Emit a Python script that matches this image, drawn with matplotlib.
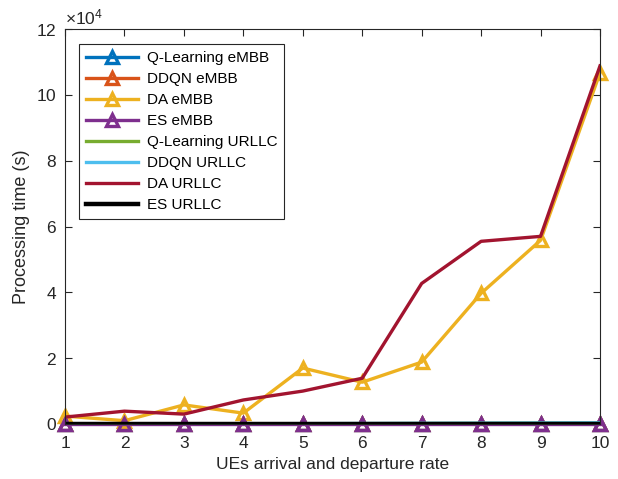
import numpy as np
import matplotlib
matplotlib.use("Agg")
from matplotlib import pyplot as plt

plt.rcParams['font.family'] = ['Liberation Sans', 'DejaVu Sans']
plt.rcParams['mathtext.fontset'] = 'custom'
plt.rcParams['mathtext.rm'] = 'Liberation Sans'

# taxa de chegada/saida dos UEs
rate = [1, 2, 3, 4, 5, 6, 7, 8, 9, 10]

# tempos de processamento (s)
ql_embb = [5, 8, 10, 12, 15, 18, 20, 25, 28, 30]
ddqn_embb = [8, 10, 14, 18, 22, 25, 30, 35, 40, 45]
da_embb = [2400, 1000, 5800, 3300, 17000, 12700, 18800, 39700, 55800, 106700]
es_embb = [1, 1, 1, 1, 1, 1, 1, 1, 1, 1]
ql_urllc = [20, 30, 40, 60, 80, 110, 150, 200, 250, 300]
ddqn_urllc = [30, 40, 60, 80, 110, 150, 200, 250, 300, 350]
da_urllc = [2100, 3900, 3000, 7300, 10000, 13900, 42700, 55500, 57000, 108800]
es_urllc = [0, 0, 0, 0, 0, 0, 0, 0, 0, 0]

fig = plt.figure(figsize=(6.18, 4.79), dpi=100)
ax = fig.add_axes([65/618, 1-424/479, 535/618, 395/479])

lw = 2.4
mk = dict(ms=8.5, mfc='none', mew=2.4, clip_on=False)
ax.plot(rate, ql_embb, '-^', color=(0, 0.447, 0.741), lw=lw, label='Q-Learning eMBB', **mk)
ax.plot(rate, ddqn_embb, '-^', color=(0.85, 0.325, 0.098), lw=lw, label='DDQN eMBB', **mk)
ax.plot(rate, da_embb, '-^', color=(0.929, 0.694, 0.125), lw=lw, label='DA eMBB', **mk)
ax.plot(rate, es_embb, '-^', color=(0.494, 0.184, 0.556), lw=lw, label='ES eMBB', **mk)
ax.plot(rate, ql_urllc, '-', color=(0.466, 0.674, 0.188), lw=lw, label='Q-Learning URLLC')
ax.plot(rate, ddqn_urllc, '-', color=(0.301, 0.745, 0.933), lw=lw, label='DDQN URLLC')
ax.plot(rate, da_urllc, '-', color=(0.635, 0.078, 0.184), lw=lw, label='DA URLLC')
ax.plot(rate, es_urllc, '-', color='k', lw=lw+0.8, label='ES URLLC')

ax.set_xlim(1, 10)
ax.set_ylim(0, 120000)
ax.set_xticks(rate)
ax.set_yticks(np.arange(0, 120001, 20000))
ax.ticklabel_format(axis='y', style='sci', scilimits=(4, 4), useMathText=True)
ax.yaxis.get_offset_text().set_fontsize(12.5)
ax.yaxis.get_offset_text().set_color('#262626')

ax.tick_params(direction='in', length=5, labelsize=12.5, colors='#262626', top=True, right=True)
ax.tick_params(axis='x', pad=9)
ax.tick_params(axis='y', pad=6)
for s in ax.spines.values():
    s.set_color('#262626')
    s.set_linewidth(0.8)

ax.set_xlabel("UEs arrival and departure rate", fontsize=12.5, color='#262626', labelpad=4)
ax.set_ylabel("Processing time (s)", fontsize=13, color='#262626')

leg = ax.legend(loc='upper left', fontsize=11, fancybox=False, framealpha=1,
                edgecolor='#262626', handlelength=3.4, handletextpad=0.6, borderpad=0.45,
                labelspacing=0.46, borderaxespad=0, bbox_to_anchor=(0.026, 0.962))
leg.get_frame().set_linewidth(0.8)

fig.savefig("out.png", dpi=100)
